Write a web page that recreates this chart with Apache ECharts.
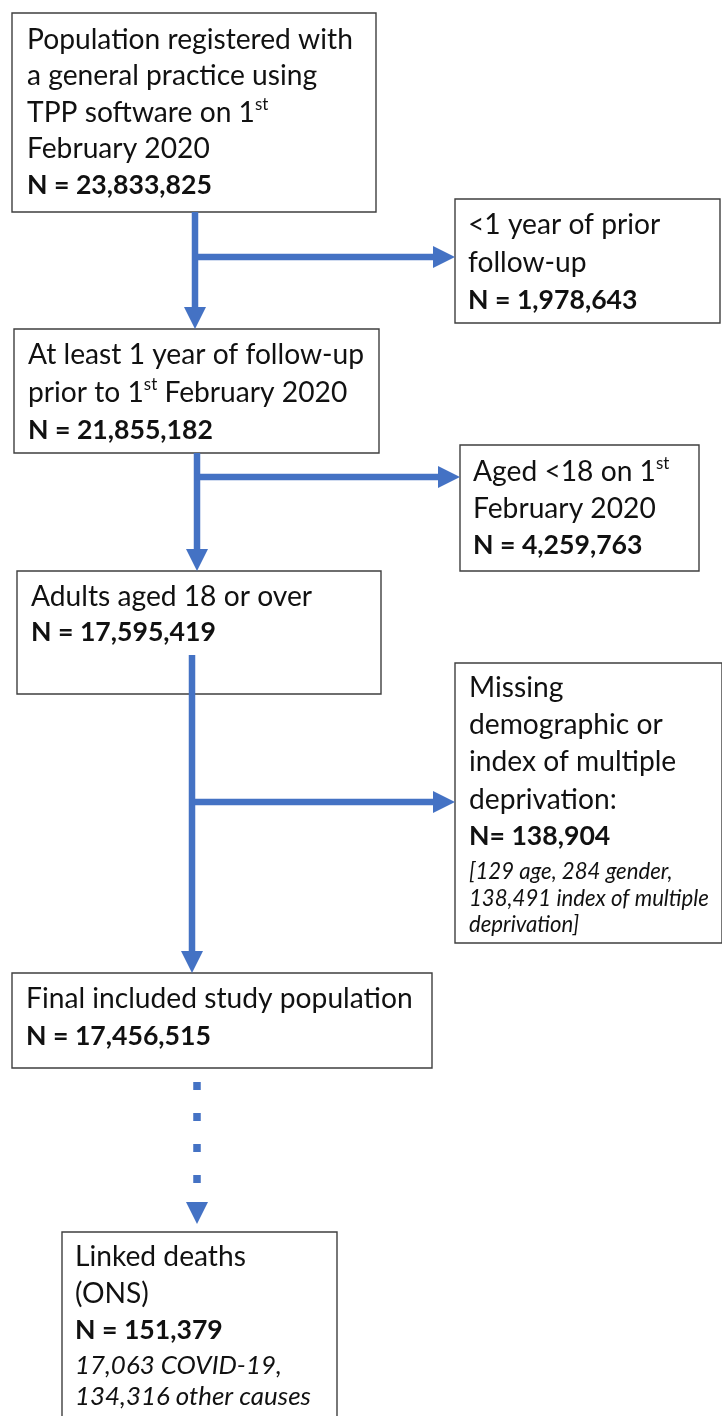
<!DOCTYPE html>
<html><head><meta charset="utf-8">
<script src="https://cdn.jsdelivr.net/npm/echarts@6/dist/echarts.min.js"></script>
<style>html,body{margin:0;padding:0;background:#fff}#c{width:722px;height:1416px}</style>
</head><body><div id="c"></div>
<script>
// ---- content ----
const boxTitles = [
  ['Population registered with', 'a general practice using', 'TPP software on 1{sup|st}', 'February 2020'],
  ['<1 year of prior', 'follow-up'],
  ['At least 1 year of follow-up', 'prior to 1{sup|st} February 2020'],
  ['Aged <18 on 1{sup|st}', 'February 2020'],
  ['Adults aged 18 or over'],
  ['Missing', 'demographic or', 'index of multiple', 'deprivation:'],
  ['Final included study population'],
  ['Linked deaths', '(ONS)']
];
const boxCounts = ['N = 23,833,825', 'N = 1,978,643', 'N = 21,855,182', 'N = 4,259,763',
  'N = 17,595,419', 'N= 138,904', 'N = 17,456,515', 'N = 151,379'];
const boxNotes = [[], [], [], [], [],
  ['[129 age, 284 gender,', '138,491 index of multiple', 'deprivation]'],
  [],
  ['17,063 COVID-19,', '134,316 other causes']];

// ---- layout (diagram coordinates) ----
// [x0, y0, x1, y1, textX, firstLineY, lineStep, noteFirstY, noteStep, noteSizeKey]
const boxLayout = [
  [12, 13, 376, 212, 27, 40, 36.3],
  [455, 199, 720, 323, 468, 225, 37.5],
  [14, 329, 379, 453, 28, 355, 37.5],
  [460, 445, 699, 571, 473, 472, 36.5],
  [17, 571, 381, 694, 31, 597, 35],
  [455, 663, 722, 943, 469, 688, 37.2, 872, 26.5, 0],
  [12, 973, 432, 1068, 26, 999, 37],
  [62, 1232, 337, 1440, 75, 1257, 36.5, 1366, 31, 1]
];
// arrows: [x0, y0, x1, y1, dotted]
const arrowLayout = [
  [195, 212, 195, 329, 0],
  [192, 257, 455, 257, 0],
  [197, 453, 197, 571, 0],
  [194, 477, 460, 477, 0],
  [192, 655, 192, 973, 0],
  [189, 802, 455, 802, 0],
  [197, 1082, 197, 1224, 1]
];

// ---- font sizing by measurement ----
const FAM = 'Lato, "Open Sans", sans-serif';
const mctx = document.createElement('canvas').getContext('2d');
function mw(font, s) { mctx.font = font + ' 100px ' + FAM; return mctx.measureText(s).width; }
const fsMain = 100 * 326 / mw('normal normal', 'Population registered with');
const fsBold = 100 * 185 / mw('normal bold', 'N = 23,833,825');
const fsNote = [100 * 240 / mw('italic normal', '138,491 index of multiple'),
                100 * 236 / mw('italic normal', '134,316 other causes')];
const fsSup = fsMain * 0.6;
const TXT = '#111';
const BLUE = '#4472C4';

function textEl(str, x, y, opts) {
  return {
    type: 'text',
    style: Object.assign({
      text: str, x: x, y: y, fill: TXT,
      fontFamily: FAM, fontSize: fsMain, fontWeight: 'normal', fontStyle: 'normal',
      align: 'left', verticalAlign: 'middle', lineHeight: fsMain * 1.2,
      rich: {
        sup: { fontSize: fsSup, fontFamily: FAM, fill: TXT, verticalAlign: 'top', lineHeight: fsSup * 1.15 }
      }
    }, opts || {})
  };
}

function renderBox(params, api) {
  const i = params.dataIndex;
  const L = boxLayout[i];
  const p0 = api.coord([L[0], L[1]]);
  const p1 = api.coord([L[2], L[3]]);
  const children = [{
    type: 'rect',
    shape: { x: p0[0], y: p0[1], width: p1[0] - p0[0], height: p1[1] - p0[1] },
    style: { fill: '#fff', stroke: '#3f3f3f', lineWidth: 1.4 }
  }];
  const lines = boxTitles[i];
  let k = 0;
  lines.forEach(function (s) {
    const p = api.coord([L[4], L[5] + L[6] * k]);
    children.push(textEl(s, p[0], p[1]));
    k++;
  });
  const pn = api.coord([L[4], L[5] + L[6] * k]);
  children.push(textEl(boxCounts[i], pn[0], pn[1], { fontWeight: 'bold', fontSize: fsBold }));
  const notes = boxNotes[i];
  notes.forEach(function (s, j) {
    const p = api.coord([L[4], L[7] + L[8] * j]);
    const fs = fsNote[L[9]];
    children.push(textEl(s, p[0], p[1], { fontStyle: 'italic', fontSize: fs, lineHeight: fs * 1.2 }));
  });
  return { type: 'group', children: children };
}

function renderArrow(params, api) {
  const A = arrowLayout[params.dataIndex];
  const s = api.coord([A[0], A[1]]);
  const e = api.coord([A[2], A[3]]);
  const dx = e[0] - s[0], dy = e[1] - s[1];
  const len = Math.sqrt(dx * dx + dy * dy);
  const ux = dx / len, uy = dy / len;
  const head = 22, hw = 11;
  const bx = e[0] - ux * head, by = e[1] - uy * head;
  const children = [];
  if (A[4]) {
    children.push({
      type: 'line',
      shape: { x1: s[0], y1: s[1], x2: bx - ux * 8, y2: by - uy * 8 },
      style: { stroke: BLUE, lineWidth: 7.5, lineDash: [8, 23], lineCap: 'butt' }
    });
  } else {
    children.push({
      type: 'line',
      shape: { x1: s[0], y1: s[1], x2: bx + ux * 1, y2: by + uy * 1 },
      style: { stroke: BLUE, lineWidth: 6.5, lineCap: 'butt' }
    });
  }
  children.push({
    type: 'polygon',
    shape: { points: [[e[0], e[1]], [bx - uy * hw, by + ux * hw], [bx + uy * hw, by - ux * hw]] },
    style: { fill: BLUE }
  });
  return { type: 'group', children: children };
}

const chart = echarts.init(document.getElementById('c'), null, { renderer: 'canvas' });
chart.setOption({
  animation: false,
  backgroundColor: '#fff',
  grid: { left: 0, right: 0, top: 0, bottom: 0 },
  xAxis: { type: 'value', min: 0, max: 722, show: false },
  yAxis: { type: 'value', min: 0, max: 1416, inverse: true, show: false },
  series: [
    { type: 'custom', name: 'boxes', renderItem: renderBox, data: boxTitles.map(function (_, i) { return [i, i]; }), z: 1 },
    { type: 'custom', name: 'arrows', renderItem: renderArrow, data: arrowLayout.map(function (_, i) { return [i, i]; }), z: 2 }
  ]
});
</script></body></html>
